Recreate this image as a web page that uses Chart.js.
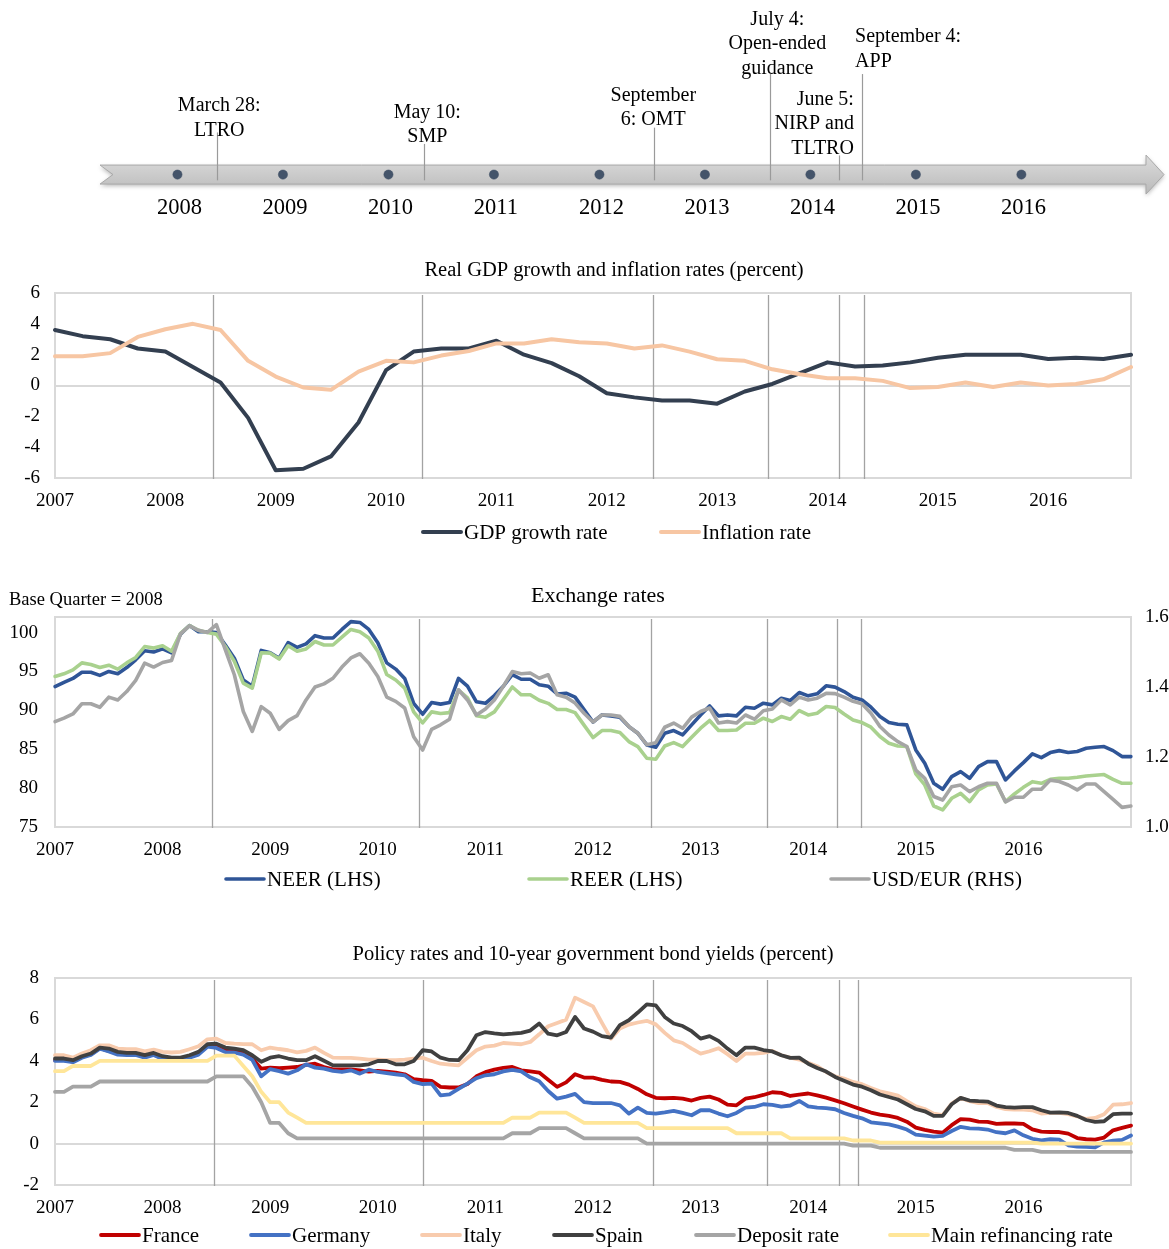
<!DOCTYPE html>
<html><head><meta charset="utf-8">
<script src="https://cdn.jsdelivr.net/npm/chart.js@4.4.1/dist/chart.umd.min.js"></script>
<style>
html,body{margin:0;padding:0;background:#fff;}
body{width:1169px;height:1249px;position:relative;overflow:hidden;}
canvas{position:absolute;left:0;}
</style></head><body>
<canvas id="tl" style="top:0px" width="1169" height="240"></canvas>
<canvas id="c1" style="top:240px" width="1169" height="310"></canvas>
<canvas id="c2" style="top:560px" width="1169" height="340"></canvas>
<canvas id="c3" style="top:930px" width="1169" height="319"></canvas>
<script>
// ---------------- DATA ----------------
const years = ['2007','2008','2009','2010','2011','2012','2013','2014','2015','2016'];
const quarters = ['Q1','Q2','Q3','Q4'];
const months = ['01','02','03','04','05','06','07','08','09','10','11','12'];
const extraMonth = '2017-01';

// Timeline
const timelineYears = [2008, 2009, 2010, 2011, 2012, 2013, 2014, 2015, 2016];
const eventTexts = [["March 28:","LTRO"],["May 10:","SMP"],["September","6: OMT"],["July 4:","Open-ended","guidance"],["June 5:","NIRP and","TLTRO"],["September 4:","APP"]];
const eventsTimeline = [2008.377, 2010.34, 2012.52, 2013.62, 2014.27, 2014.49];

// Chart 1: quarterly, real GDP growth and inflation (percent)
const gdpGrowth = [3.6, 3.2, 3.0, 2.4, 2.2, 1.2, 0.2, -2.1, -5.5, -5.4, -4.6, -2.4, 1.0, 2.2, 2.4, 2.4, 2.9, 2.0, 1.45, 0.6,
  -0.5, -0.77, -0.97, -0.97, -1.18, -0.39, 0.1, 0.8, 1.5, 1.23, 1.3, 1.5, 1.8, 2.0, 2.0, 2.0, 1.72, 1.8, 1.72, 2.0];
const inflation = [1.9, 1.9, 2.1, 3.15, 3.65, 4.0, 3.6, 1.6, 0.58, -0.13, -0.28, 0.9, 1.6, 1.5, 1.94, 2.24, 2.73, 2.73, 3.0, 2.8,
  2.73, 2.4, 2.6, 2.2, 1.7, 1.6, 1.05, 0.73, 0.47, 0.47, 0.3, -0.17, -0.1, 0.2, -0.1, 0.2, 0.0, 0.1, 0.4, 1.2];
const events1 = [5.73, 13.30, 21.67, 25.84, 28.42, 29.32];

// Chart 2: monthly exchange rates
const neer = [93.06, 93.6, 94.1, 94.9, 94.9, 94.5, 95.0, 94.7, 95.5, 96.5, 97.65, 97.5, 97.9, 97.4, 99.8, 100.9, 100.1, 100.1, 100.0, 98.4,
  96.7, 93.9, 93.1, 97.7, 97.4, 96.7, 98.7, 98.1, 98.55, 99.6, 99.3, 99.3, 100.4, 101.4, 101.3, 100.4, 98.7, 96.1, 95.3, 94.1,
  90.9, 89.5, 91.0, 90.8, 91.0, 94.1, 93.1, 91.1, 90.9, 91.9, 93.1, 94.6, 94.0, 94.0, 93.3, 93.1, 92.1, 92.2, 91.7, 90.1,
  88.5, 89.41, 89.29, 89.11, 87.91, 87.05, 85.55, 85.25, 87.05, 87.40, 86.84, 88.13, 89.41, 90.57, 89.29, 89.41, 89.29, 90.40, 90.27, 90.92,
  90.70, 91.56, 91.26, 92.29, 91.86, 92.12, 93.15, 92.98, 92.42, 91.69, 91.34, 90.40, 89.20, 88.43, 88.21, 88.13, 84.91, 83.19, 80.62, 79.85,
  81.48, 82.12, 81.26, 82.76, 83.41, 83.41, 81.05, 82.21, 83.28, 84.40, 83.92, 84.57, 84.82, 84.57, 84.70, 85.12, 85.25, 85.34, 84.82, 84.05, 84.05];
const reer = [94.35, 94.7, 95.2, 96.1, 95.9, 95.5, 95.8, 95.3, 96.1, 96.8, 98.2, 98.0, 98.3, 97.6, 99.9, 100.9, 100.3, 100.0, 99.8, 98.2,
  96.3, 93.5, 92.85, 97.4, 97.35, 96.6, 98.3, 97.6, 97.9, 98.85, 98.4, 98.4, 99.4, 100.4, 100.1, 99.3, 97.6, 94.6, 93.9, 92.85,
  89.8, 88.4, 89.8, 89.6, 89.7, 92.6, 91.6, 89.3, 89.1, 89.8, 91.4, 93.0, 92.0, 92.0, 91.3, 90.9, 90.1, 90.1, 89.7, 88.1,
  86.5, 87.40, 87.40, 87.14, 85.98, 85.34, 83.84, 83.71, 85.42, 85.85, 85.34, 86.54, 87.70, 88.69, 87.40, 87.40, 87.48, 88.34, 88.34, 88.99,
  88.56, 89.20, 88.86, 89.97, 89.41, 89.63, 90.49, 90.36, 89.54, 88.77, 88.43, 87.83, 86.63, 85.77, 85.42, 85.34, 81.82, 80.41, 77.70, 77.19,
  78.69, 79.33, 78.26, 79.76, 80.41, 80.53, 78.26, 79.25, 80.10, 80.83, 80.62, 81.13, 81.26, 81.26, 81.39, 81.56, 81.65, 81.74, 81.13, 80.62, 80.62];
const usdEur = [1.301, 1.311, 1.323, 1.352, 1.352, 1.342, 1.371, 1.363, 1.387, 1.419, 1.468, 1.457, 1.470, 1.476, 1.552, 1.575, 1.562, 1.556, 1.578, 1.506,
  1.435, 1.330, 1.273, 1.344, 1.325, 1.279, 1.304, 1.318, 1.363, 1.400, 1.409, 1.425, 1.457, 1.483, 1.495, 1.468, 1.430, 1.371, 1.359, 1.340,
  1.258, 1.220, 1.279, 1.292, 1.308, 1.392, 1.363, 1.320, 1.337, 1.363, 1.402, 1.444, 1.438, 1.440, 1.425, 1.435, 1.378, 1.371, 1.354, 1.325,
  1.300, 1.320, 1.320, 1.316, 1.287, 1.268, 1.235, 1.241, 1.285, 1.297, 1.282, 1.314, 1.330, 1.340, 1.297, 1.301, 1.297, 1.320, 1.308, 1.332,
  1.337, 1.363, 1.349, 1.371, 1.363, 1.368, 1.382, 1.381, 1.371, 1.359, 1.352, 1.325, 1.287, 1.263, 1.244, 1.230, 1.163, 1.139, 1.087, 1.077,
  1.115, 1.120, 1.101, 1.115, 1.125, 1.125, 1.072, 1.085, 1.085, 1.108, 1.108, 1.134, 1.130, 1.120, 1.106, 1.123, 1.123, 1.101, 1.079, 1.056, 1.060];
const leftTicks2 = [75, 80, 85, 90, 95, 100];
const rightTicks2 = [1.0, 1.2, 1.4, 1.6];
const events2 = [17.5, 40.6, 66.5, 79.4, 87.2, 89.9];

// Chart 3: monthly policy rates and 10-year yields (percent)
const france = [4.03, 4.03, 3.96, 4.19, 4.32, 4.61, 4.48, 4.35, 4.32, 4.32, 4.19, 4.32, 4.12, 4.12, 4.12, 4.19, 4.35, 4.72, 4.67, 4.48,
  4.48, 4.40, 4.12, 3.62, 3.67, 3.64, 3.67, 3.70, 3.80, 3.86, 3.70, 3.59, 3.59, 3.59, 3.54, 3.48, 3.51, 3.48, 3.43, 3.35,
  3.11, 3.06, 3.03, 2.74, 2.71, 2.71, 2.88, 3.25, 3.45, 3.57, 3.66, 3.70, 3.54, 3.49, 3.43, 3.09, 2.74, 2.96, 3.35, 3.19,
  3.19, 3.08, 3.00, 2.98, 2.85, 2.64, 2.38, 2.21, 2.19, 2.21, 2.17, 2.08, 2.21, 2.27, 2.13, 1.88, 1.85, 2.17, 2.24, 2.35,
  2.48, 2.45, 2.30, 2.37, 2.42, 2.33, 2.22, 2.09, 1.95, 1.79, 1.64, 1.50, 1.40, 1.34, 1.24, 1.06, 0.77, 0.66, 0.58, 0.53,
  0.89, 1.18, 1.16, 1.06, 1.05, 0.95, 0.97, 0.97, 0.95, 0.69, 0.58, 0.56, 0.56, 0.48, 0.27, 0.21, 0.19, 0.29, 0.64, 0.76, 0.87];
const germany = [4.00, 4.00, 3.93, 4.15, 4.28, 4.58, 4.45, 4.30, 4.28, 4.28, 4.15, 4.28, 4.08, 4.05, 4.08, 4.15, 4.30, 4.68, 4.62, 4.42,
  4.40, 4.30, 4.05, 3.25, 3.60, 3.50, 3.38, 3.54, 3.83, 3.67, 3.62, 3.51, 3.46, 3.54, 3.38, 3.57, 3.46, 3.41, 3.35, 3.30,
  2.98, 2.87, 2.90, 2.33, 2.38, 2.64, 2.90, 3.16, 3.30, 3.35, 3.49, 3.56, 3.49, 3.20, 3.01, 2.54, 2.17, 2.27, 2.40, 2.00,
  1.96, 1.96, 1.96, 1.85, 1.45, 1.74, 1.48, 1.45, 1.51, 1.58, 1.48, 1.37, 1.61, 1.61, 1.45, 1.32, 1.48, 1.74, 1.77, 1.90,
  1.87, 1.79, 1.84, 2.06, 1.80, 1.74, 1.71, 1.66, 1.48, 1.34, 1.22, 1.03, 0.98, 0.93, 0.82, 0.68, 0.43, 0.39, 0.34, 0.37,
  0.61, 0.81, 0.74, 0.72, 0.68, 0.55, 0.50, 0.64, 0.40, 0.23, 0.16, 0.21, 0.19, -0.08, -0.14, -0.16, -0.18, 0.06, 0.14, 0.18, 0.39];
const italy = [4.27, 4.27, 4.15, 4.35, 4.51, 4.75, 4.75, 4.59, 4.56, 4.56, 4.46, 4.54, 4.43, 4.40, 4.43, 4.56, 4.70, 5.04, 5.07, 4.86,
  4.83, 4.81, 4.80, 4.51, 4.64, 4.57, 4.51, 4.41, 4.48, 4.64, 4.38, 4.15, 4.14, 4.14, 4.11, 4.06, 4.06, 4.03, 4.03, 4.06,
  4.11, 4.15, 3.99, 3.86, 3.82, 3.78, 4.15, 4.51, 4.69, 4.73, 4.86, 4.83, 4.80, 4.91, 5.28, 5.67, 5.83, 5.99, 7.05, 6.84,
  6.63, 5.83, 5.07, 5.56, 5.75, 5.85, 5.93, 5.76, 5.35, 4.99, 4.86, 4.59, 4.35, 4.46, 4.61, 4.32, 3.99, 4.35, 4.35, 4.38,
  4.48, 4.27, 4.15, 4.06, 3.90, 3.74, 3.46, 3.25, 3.14, 2.98, 2.87, 2.69, 2.53, 2.43, 2.32, 2.05, 1.80, 1.67, 1.45, 1.38,
  1.93, 2.21, 2.05, 1.96, 1.96, 1.77, 1.67, 1.64, 1.64, 1.61, 1.45, 1.48, 1.48, 1.42, 1.32, 1.19, 1.24, 1.42, 1.88, 1.90, 1.96];
const spain = [4.11, 4.11, 4.03, 4.22, 4.35, 4.64, 4.59, 4.43, 4.38, 4.38, 4.27, 4.38, 4.22, 4.15, 4.15, 4.27, 4.43, 4.80, 4.83, 4.64,
  4.59, 4.51, 4.27, 3.95, 4.15, 4.22, 4.11, 4.03, 4.03, 4.22, 4.00, 3.78, 3.78, 3.78, 3.78, 3.83, 3.99, 3.99, 3.83, 3.83,
  3.99, 4.51, 4.45, 4.15, 4.04, 4.03, 4.51, 5.23, 5.39, 5.33, 5.28, 5.31, 5.35, 5.46, 5.80, 5.31, 5.23, 5.39, 6.12, 5.56,
  5.41, 5.19, 5.12, 5.72, 5.96, 6.33, 6.73, 6.68, 6.12, 5.80, 5.68, 5.43, 5.07, 5.19, 4.96, 4.59, 4.27, 4.64, 4.64, 4.52,
  4.45, 4.27, 4.14, 4.15, 3.86, 3.65, 3.48, 3.22, 3.04, 2.85, 2.75, 2.58, 2.37, 2.25, 2.13, 1.90, 1.67, 1.56, 1.34, 1.34,
  1.90, 2.21, 2.08, 2.05, 2.03, 1.84, 1.76, 1.74, 1.76, 1.76, 1.61, 1.50, 1.51, 1.48, 1.34, 1.14, 1.05, 1.08, 1.42, 1.45, 1.45];
const depositRate = [2.5, 2.5, 2.75, 2.75, 2.75, 3.0, 3.0, 3.0, 3.0, 3.0, 3.0, 3.0, 3.0, 3.0, 3.0, 3.0, 3.0, 3.0, 3.25, 3.25,
  3.25, 3.25, 2.75, 2.0, 1.0, 1.0, 0.5, 0.25, 0.25, 0.25, 0.25, 0.25, 0.25, 0.25, 0.25, 0.25, 0.25, 0.25, 0.25, 0.25,
  0.25, 0.25, 0.25, 0.25, 0.25, 0.25, 0.25, 0.25, 0.25, 0.25, 0.25, 0.5, 0.5, 0.5, 0.75, 0.75, 0.75, 0.75, 0.5, 0.25,
  0.25, 0.25, 0.25, 0.25, 0.25, 0.25, 0, 0, 0, 0, 0, 0, 0, 0, 0, 0, 0, 0, 0, 0,
  0, 0, 0, 0, 0, 0, 0, 0, 0, -0.1, -0.1, -0.1, -0.2, -0.2, -0.2, -0.2, -0.2, -0.2, -0.2, -0.2,
  -0.2, -0.2, -0.2, -0.2, -0.2, -0.2, -0.2, -0.3, -0.3, -0.3, -0.4, -0.4, -0.4, -0.4, -0.4, -0.4, -0.4, -0.4, -0.4, -0.4, -0.4];
const mainRefiRate = [3.5, 3.5, 3.75, 3.75, 3.75, 4.0, 4.0, 4.0, 4.0, 4.0, 4.0, 4.0, 4.0, 4.0, 4.0, 4.0, 4.0, 4.0, 4.25, 4.25,
  4.25, 3.75, 3.25, 2.5, 2.0, 2.0, 1.5, 1.25, 1.0, 1.0, 1.0, 1.0, 1.0, 1.0, 1.0, 1.0, 1.0, 1.0, 1.0, 1.0,
  1.0, 1.0, 1.0, 1.0, 1.0, 1.0, 1.0, 1.0, 1.0, 1.0, 1.0, 1.25, 1.25, 1.25, 1.5, 1.5, 1.5, 1.5, 1.25, 1.0,
  1.0, 1.0, 1.0, 1.0, 1.0, 1.0, 0.75, 0.75, 0.75, 0.75, 0.75, 0.75, 0.75, 0.75, 0.75, 0.75, 0.5, 0.5, 0.5, 0.5,
  0.5, 0.5, 0.25, 0.25, 0.25, 0.25, 0.25, 0.25, 0.25, 0.15, 0.15, 0.15, 0.05, 0.05, 0.05, 0.05, 0.05, 0.05, 0.05, 0.05,
  0.05, 0.05, 0.05, 0.05, 0.05, 0.05, 0.05, 0.05, 0.05, 0.05, 0, 0, 0, 0, 0, 0, 0, 0, 0, 0, 0];
const events3 = [17.7, 41.0, 66.7, 79.4, 87.4, 89.5];

// category labels
const quarterLabels = [];
years.forEach(y => quarters.forEach(q => quarterLabels.push(y + ' ' + q)));
const monthLabels = [];
years.forEach(y => months.forEach(m => monthLabels.push(y + '-' + m)));
monthLabels.push(extraMonth);

// ---------------- STYLE / HELPERS ----------------
const FONT = "'Liberation Serif','Times New Roman',serif";
Chart.defaults.font.family = FONT;
Chart.defaults.color = '#000';
Chart.defaults.animation = false;

function yearTick(v) {
  const l = this.getLabelForValue(v);
  const y = l.slice(0, 4);
  return ((l.endsWith('Q1') || l.endsWith('-01')) && years.includes(y)) ? y : '';
}

function decoPlugin(cfg) {
  return {
    id: 'deco',
    beforeDatasetsDraw(chart) {
      const {ctx, chartArea: a} = chart;
      ctx.save();
      ctx.strokeStyle = '#d9d9d9';
      ctx.lineWidth = 2;
      ctx.strokeRect(a.left, a.top, a.right - a.left, a.bottom - a.top);
      const xs = chart.scales.x;
      ctx.strokeStyle = '#a3a3a3';
      ctx.lineWidth = 1.3;
      cfg.events.forEach(e => {
        const px = Math.round(xs.getPixelForValue(e)) + 0.5;
        ctx.beginPath();
        ctx.moveTo(px, a.top + 2);
        ctx.lineTo(px, a.bottom + 1);
        ctx.stroke();
      });
      ctx.restore();
    },
    afterDraw(chart) {
      const ctx = chart.ctx;
      ctx.save();
      ctx.fillStyle = '#000';
      ctx.textBaseline = 'middle';
      ctx.textAlign = 'center';
      ctx.font = cfg.titleSize + 'px ' + FONT;
      ctx.fillText(cfg.title, cfg.titleX, cfg.titleY);
      (cfg.extra || []).forEach(t => {
        ctx.textAlign = t.align;
        ctx.font = t.size + 'px ' + FONT;
        ctx.fillText(t.text, t.x, t.y);
      });
      ctx.font = '21px ' + FONT;
      ctx.textAlign = 'left';
      chart.data.datasets.forEach((ds, i) => {
        const x = cfg.legendX[i];
        ctx.strokeStyle = ds.borderColor;
        ctx.lineWidth = ds.borderWidth;
        ctx.lineCap = 'round';
        ctx.beginPath();
        ctx.moveTo(x + 2, cfg.legendY);
        ctx.lineTo(x + 40, cfg.legendY);
        ctx.stroke();
        ctx.fillText(ds.label, x + 43, cfg.legendY + 1);
      });
      ctx.restore();
    }
  };
}

function lineDs(label, data, color, width, order, axis) {
  return {label, data, borderColor: color, backgroundColor: color, borderWidth: width,
    pointRadius: 0, pointHoverRadius: 0, tension: 0, borderJoinStyle: 'round', borderCapStyle: 'round',
    order, yAxisID: axis || 'y'};
}

function xScale() {
  return {
    type: 'category',
    offset: false,
    grid: {display: false, drawTicks: false},
    border: {display: false},
    ticks: {autoSkip: false, maxRotation: 0, minRotation: 0, padding: 12, font: {size: 19}, color: '#000', callback: yearTick},
    afterFit(s) { s.height = 30; }
  };
}

function zeroGrid(ctx) { return ctx.tick && ctx.tick.value === 0 ? '#d9d9d9' : 'rgba(0,0,0,0)'; }

// ---------------- TIMELINE ----------------
const tlLineTop = [44, 32, 49, 105, 20, 105];
const tlLabelLayout = [
  {dx: 2, align: 'center', y: 46},
  {dx: 3, align: 'center', y: 39},
  {dx: -1, align: 'center', y: 57},
  {dx: 7, align: 'center', y: 111},
  {dx: 15, align: 'right', y: 27},
  {dx: -7, align: 'left', y: 118}
];
const tlPlugin = {
  id: 'timeline',
  beforeDatasetsDraw(chart) {
    const ctx = chart.ctx;
    const xs = chart.scales.x, ys = chart.scales.y;
    const cy = ys.getPixelForValue(0);
    const L = 100, N = 113, R = 1146, T = 1164, bh = 9.5, hh = 19.5;
    ctx.save();
    ctx.shadowColor = 'rgba(0,0,0,0.28)';
    ctx.shadowBlur = 4;
    ctx.shadowOffsetY = 2;
    const g = ctx.createLinearGradient(0, cy - hh, 0, cy + hh);
    g.addColorStop(0, '#dcdcdc');
    g.addColorStop(0.5, '#cbcbcb');
    g.addColorStop(1, '#b9b9b9');
    ctx.fillStyle = g;
    ctx.beginPath();
    ctx.moveTo(L, cy - bh);
    ctx.lineTo(R, cy - bh);
    ctx.lineTo(R, cy - hh);
    ctx.lineTo(T, cy);
    ctx.lineTo(R, cy + hh);
    ctx.lineTo(R, cy + bh);
    ctx.lineTo(L, cy + bh);
    ctx.lineTo(N, cy);
    ctx.closePath();
    ctx.fill();
    ctx.shadowColor = 'transparent';
    ctx.strokeStyle = '#a9a9a9';
    ctx.lineWidth = 1;
    ctx.stroke();
    ctx.strokeStyle = '#9a9a9a';
    ctx.lineWidth = 1.2;
    eventsTimeline.forEach((e, i) => {
      const px = Math.round(xs.getPixelForValue(e)) + 0.5;
      ctx.beginPath();
      ctx.moveTo(px, ys.getPixelForValue(tlLineTop[i]));
      ctx.lineTo(px, ys.getPixelForValue(-6));
      ctx.stroke();
    });
    ctx.restore();
  },
  afterDatasetsDraw(chart) {
    const ctx = chart.ctx;
    const xs = chart.scales.x, ys = chart.scales.y;
    ctx.save();
    ctx.fillStyle = '#000';
    ctx.textBaseline = 'middle';
    ctx.font = '22.5px ' + FONT;
    ctx.textAlign = 'center';
    timelineYears.forEach(y => ctx.fillText(String(y), xs.getPixelForValue(y) + 2, ys.getPixelForValue(-35)));
    ctx.font = '20px ' + FONT;
    eventsTimeline.forEach((e, i) => {
      const lay = tlLabelLayout[i];
      const px = xs.getPixelForValue(e) + lay.dx;
      ctx.textAlign = lay.align;
      const lines = eventTexts[i];
      const lastY = ys.getPixelForValue(lay.y);
      lines.forEach((t, k) => ctx.fillText(t, px, lastY - (lines.length - 1 - k) * 24.5));
    });
    ctx.restore();
  }
};

new Chart(document.getElementById('tl'), {
  type: 'scatter',
  data: {datasets: [{label: 'Years', data: timelineYears.map(y => ({x: y, y: 0})),
    pointRadius: 4.6, pointHoverRadius: 4.6, backgroundColor: '#44546a', borderColor: '#3a4a60', borderWidth: 0.5, showLine: false}]},
  options: {
    responsive: false, animation: false,
    layout: {padding: 0},
    plugins: {legend: {display: false}, tooltip: {enabled: false}},
    scales: {
      x: {type: 'linear', display: false, min: 2006.366, max: 2017.351},
      y: {type: 'linear', display: false, min: -63, max: 177}
    }
  },
  plugins: [tlPlugin]
});

// ---------------- CHART 1 ----------------
new Chart(document.getElementById('c1'), {
  type: 'line',
  data: {labels: quarterLabels, datasets: [
    lineDs('GDP growth rate', gdpGrowth, '#333f50', 4, 2),
    lineDs('Inflation rate', inflation, '#f7c6a3', 4, 1)
  ]},
  options: {
    responsive: false, animation: false,
    layout: {padding: {left: 0, right: 38, top: 53, bottom: 42}},
    plugins: {legend: {display: false}, tooltip: {enabled: false}},
    scales: {
      x: xScale(),
      y: {min: -6, max: 6, ticks: {stepSize: 2, padding: 15, font: {size: 19}, color: '#000'},
        grid: {drawTicks: false, color: zeroGrid, lineWidth: 2}, border: {display: false},
        afterFit(s) { s.width = 55; }}
    }
  },
  plugins: [decoPlugin({events: events1, title: 'Real GDP growth and inflation rates (percent)', titleSize: 20.5,
    titleX: 614, titleY: 31, legendX: [421, 659], legendY: 292})]
});

// ---------------- CHART 2 ----------------
new Chart(document.getElementById('c2'), {
  type: 'line',
  data: {labels: monthLabels, datasets: [
    lineDs('NEER (LHS)', neer, '#2f5597', 3.6, 3, 'y'),
    lineDs('REER (LHS)', reer, '#a9d18e', 3.6, 2, 'y'),
    lineDs('USD/EUR (RHS)', usdEur, '#a5a5a5', 3.6, 1, 'y2')
  ]},
  options: {
    responsive: false, animation: false,
    layout: {padding: {left: 0, right: 0, top: 57, bottom: 43}},
    plugins: {legend: {display: false}, tooltip: {enabled: false}},
    scales: {
      x: xScale(),
      y: {position: 'left', min: 75, max: 102,
        afterBuildTicks(s) { s.ticks = leftTicks2.map(v => ({value: v})); },
        ticks: {padding: 17, font: {size: 19}, color: '#000'},
        grid: {display: false, drawTicks: false}, border: {display: false},
        afterFit(s) { s.width = 55; }},
      y2: {position: 'right', min: 1.0, max: 1.6,
        afterBuildTicks(s) { s.ticks = rightTicks2.map(v => ({value: v})); },
        ticks: {padding: 14, font: {size: 19}, color: '#000', callback: v => Number(v).toFixed(1)},
        grid: {display: false, drawTicks: false}, border: {display: false},
        afterFit(s) { s.width = 38; }}
    }
  },
  plugins: [decoPlugin({events: events2, title: 'Exchange rates', titleSize: 22, titleX: 598, titleY: 36,
    extra: [{text: 'Base Quarter = 2008', x: 9, y: 40, size: 18.5, align: 'left'}],
    legendX: [224, 527, 829], legendY: 319})]
});

// ---------------- CHART 3 ----------------
new Chart(document.getElementById('c3'), {
  type: 'line',
  data: {labels: monthLabels, datasets: [
    lineDs('France', france, '#c00000', 3.8, 6),
    lineDs('Germany', germany, '#4472c4', 3.8, 5),
    lineDs('Italy', italy, '#f8cbad', 3.8, 4),
    lineDs('Spain', spain, '#404040', 3.8, 3),
    lineDs('Deposit rate', depositRate, '#a5a5a5', 3.8, 2),
    lineDs('Main refinancing rate', mainRefiRate, '#ffe699', 3.8, 1)
  ]},
  options: {
    responsive: false, animation: false,
    layout: {padding: {left: 0, right: 38, top: 48, bottom: 34}},
    plugins: {legend: {display: false}, tooltip: {enabled: false}},
    scales: {
      x: xScale(),
      y: {min: -2, max: 8, ticks: {stepSize: 2, padding: 16, font: {size: 19}, color: '#000'},
        grid: {drawTicks: false, color: zeroGrid, lineWidth: 2}, border: {display: false},
        afterFit(s) { s.width = 55; }}
    }
  },
  plugins: [decoPlugin({events: events3, title: 'Policy rates and 10-year government bond yields (percent)', titleSize: 20.5,
    titleX: 593, titleY: 25, legendX: [99, 249, 420, 552, 694, 888], legendY: 305})]
});
</script>
</body></html>
